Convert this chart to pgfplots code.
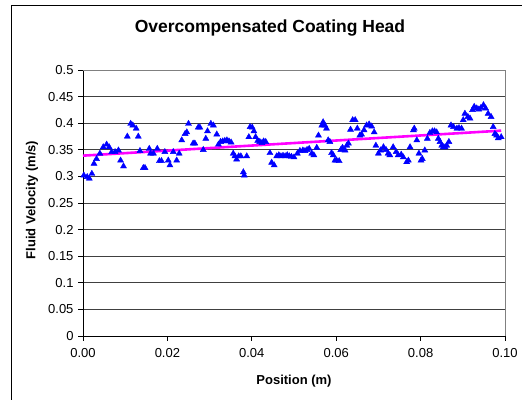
\documentclass[border=0pt]{standalone}
\usepackage{pgfplots}
\pgfplotsset{compat=1.18}
\usepackage{fontspec}
\setmainfont{Liberation Sans}
\definecolor{ptblue}{HTML}{0000FF}
\definecolor{trend}{HTML}{FF00FF}
\definecolor{gridc}{HTML}{404040}
\definecolor{frame}{HTML}{808080}

\begin{document}
\begin{tikzpicture}
  % the page is 522 x 400 bp, one bp per pixel of the reference
  \useasboundingbox (0,0) rectangle (522bp,400bp);
  \draw[black, line width=1bp] (11bp,-5bp) -- (11bp,394bp) -- (530bp,394bp);

  \begin{axis}[
      at={(83bp,64bp)}, anchor=south west,
      scale only axis,
      width=422bp, height=266bp,
      xmin=0, xmax=0.1,
      ymin=0, ymax=0.5,
      axis x line*=bottom,
      axis y line*=left,
      axis line style={black, line width=0.8bp, -},
      xtick={0,0.02,0.04,0.06,0.08,0.1},
      xticklabels={0.00,0.02,0.04,0.06,0.08,0.10},
      ytick={0,0.05,0.1,0.15,0.2,0.25,0.3,0.35,0.4,0.45},
      yticklabels={0,0.05,0.1,0.15,0.2,0.25,0.3,0.35,0.4,0.45},
      extra y ticks={0.5},
      extra y tick labels={0.5},
      extra y tick style={major grid style={frame, line width=0.8bp}},
      extra x ticks={0.1},
      extra x tick labels={},
      extra x tick style={grid=major, major grid style={frame, line width=0.8bp}},
      /pgf/number format/assume math mode=true,
      tick align=outside,
      major tick length=5bp,
      tick style={black, line width=0.8bp},
      ymajorgrids,
      major grid style={gridc, line width=0.8bp},
      tick label style={font=\fontsize{13bp}{15bp}\selectfont},
      yticklabel style={xshift=-1bp},
      xticklabel style={yshift=-4bp},
      clip=false,
    ]
    \addplot[only marks, mark=triangle*, mark size=3.5bp, color=ptblue]
      coordinates {
        (0.0002,0.302) (0.0010,0.299) (0.0015,0.296) (0.0021,0.305)
        (0.0026,0.324) (0.0032,0.333) (0.0040,0.343) (0.0048,0.355)
        (0.0056,0.360) (0.0062,0.355) (0.0068,0.346) (0.0076,0.346)
        (0.0084,0.349) (0.0089,0.330) (0.0096,0.319) (0.0105,0.375)
        (0.0113,0.399) (0.0118,0.396) (0.0126,0.390) (0.0131,0.375)
        (0.0135,0.348) (0.0143,0.316) (0.0147,0.316) (0.0157,0.352)
        (0.0160,0.343) (0.0167,0.343) (0.0176,0.352) (0.0181,0.329)
        (0.0186,0.329) (0.0194,0.346) (0.0202,0.330) (0.0206,0.321)
        (0.0214,0.346) (0.0222,0.330) (0.0228,0.343) (0.0234,0.368)
        (0.0242,0.380) (0.0246,0.383) (0.0250,0.399) (0.0261,0.362)
        (0.0265,0.362) (0.0273,0.392) (0.0277,0.392) (0.0285,0.350)
        (0.0291,0.371) (0.0295,0.385) (0.0303,0.399) (0.0309,0.396)
        (0.0317,0.379) (0.0321,0.360) (0.0326,0.365) (0.0331,0.366)
        (0.0336,0.367) (0.0341,0.368) (0.0346,0.366) (0.0351,0.364)
        (0.0356,0.343) (0.0360,0.338) (0.0364,0.332) (0.0369,0.338)
        (0.0374,0.338) (0.0380,0.308) (0.0382,0.302) (0.0388,0.338)
        (0.0393,0.374) (0.0396,0.393) (0.0401,0.392) (0.0405,0.385)
        (0.0409,0.374) (0.0414,0.367) (0.0419,0.365) (0.0424,0.363)
        (0.0428,0.366) (0.0433,0.365) (0.0443,0.344) (0.0447,0.326)
        (0.0453,0.321) (0.0459,0.338) (0.0464,0.340) (0.0469,0.338)
        (0.0474,0.339) (0.0479,0.338) (0.0484,0.340) (0.0489,0.338)
        (0.0494,0.337) (0.0500,0.336) (0.0508,0.343) (0.0514,0.348)
        (0.0521,0.349) (0.0526,0.348) (0.0531,0.350) (0.0536,0.352)
        (0.0542,0.343) (0.0547,0.340) (0.0554,0.354) (0.0558,0.377)
        (0.0566,0.396) (0.0569,0.402) (0.0573,0.396) (0.0577,0.390)
        (0.0581,0.368) (0.0585,0.365) (0.0589,0.344) (0.0593,0.340)
        (0.0597,0.330) (0.0601,0.330) (0.0607,0.329) (0.0611,0.350)
        (0.0615,0.354) (0.0621,0.349) (0.0625,0.358) (0.0629,0.362)
        (0.0634,0.388) (0.0639,0.406) (0.0645,0.406) (0.0650,0.390)
        (0.0656,0.377) (0.0660,0.379) (0.0666,0.387) (0.0672,0.396)
        (0.0678,0.398) (0.0684,0.394) (0.0690,0.383) (0.0694,0.358)
        (0.0700,0.343) (0.0705,0.349) (0.0712,0.355) (0.0718,0.350)
        (0.0723,0.343) (0.0727,0.340) (0.0735,0.355) (0.0742,0.346)
        (0.0747,0.340) (0.0754,0.341) (0.0759,0.336) (0.0767,0.327)
        (0.0771,0.330) (0.0775,0.355) (0.0783,0.387) (0.0785,0.390)
        (0.0791,0.368) (0.0796,0.343) (0.0801,0.330) (0.0804,0.333)
        (0.0810,0.349) (0.0816,0.371) (0.0822,0.382) (0.0828,0.385)
        (0.0833,0.385) (0.0838,0.383) (0.0842,0.371) (0.0846,0.365)
        (0.0850,0.358) (0.0854,0.355) (0.0858,0.355) (0.0862,0.358)
        (0.0867,0.365) (0.0872,0.396) (0.0878,0.393) (0.0886,0.390)
        (0.0891,0.391) (0.0897,0.390) (0.0901,0.406) (0.0905,0.418)
        (0.0912,0.412) (0.0917,0.409) (0.0923,0.425) (0.0927,0.431)
        (0.0933,0.428) (0.0938,0.426) (0.0943,0.429) (0.0949,0.434)
        (0.0954,0.428) (0.0960,0.418) (0.0967,0.412) (0.0972,0.393)
        (0.0976,0.380) (0.0980,0.377) (0.0984,0.372) (0.0991,0.374)
      };
    % linear trend line
    \addplot[trend, line width=2.6bp, no marks]
      coordinates {(0,0.339) (0.0991,0.386)};
  \end{axis}

  \node[anchor=base, font=\bfseries\fontsize{17.5bp}{20bp}\selectfont]
    at (270bp,367bp) {Overcompensated Coating Head};
  \node[anchor=base, font=\bfseries\fontsize{13bp}{15bp}\selectfont]
    at (294bp,16bp) {Position (m)};
  \node[rotate=90, font=\bfseries\fontsize{13bp}{15bp}\selectfont]
    at (32bp,200bp) {Fluid Velocity (m/s)};
\end{tikzpicture}
\end{document}
